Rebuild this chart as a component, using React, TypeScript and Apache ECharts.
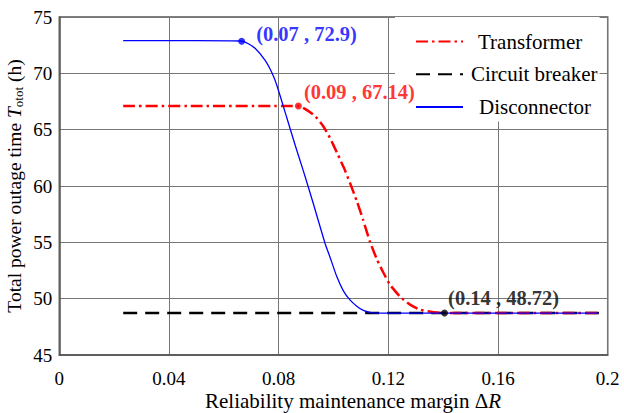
import React, { useEffect, useRef } from "react";
import * as echarts from "echarts";

const seriesNames = ["Transformer", "Circuit breaker", "Disconnector"];
const seriesColors = ["#ff0000", "#000000", "#0000ff"];

const transformerX = [0.0233, 0.05, 0.0872, 0.0896, 0.0932, 0.0962, 0.0987, 0.1013, 0.1038, 0.106, 0.1086, 0.1108, 0.1133, 0.1159, 0.1184, 0.1206, 0.1243, 0.1279, 0.1315, 0.1365, 0.1407, 0.16, 0.18, 0.1968];
const transformerY = [67.1, 67.1, 67.1, 66.84, 66.22, 65.33, 64.27, 62.94, 61.61, 60.28, 58.59, 57.0, 55.05, 53.45, 52.21, 51.24, 50.18, 49.47, 49.03, 48.79, 48.72, 48.72, 48.72, 48.72];

const breakerX = [0.0233, 0.1968];
const breakerY = [48.72, 48.72];

const disconnectorX = [0.0233, 0.05, 0.0665, 0.0688, 0.0714, 0.075, 0.0775, 0.0793, 0.083, 0.086, 0.089, 0.0926, 0.0969, 0.0987, 0.1012, 0.1036, 0.106, 0.1086, 0.1109, 0.1133, 0.1158, 0.14, 0.17, 0.1968];
const disconnectorY = [72.9, 72.9, 72.87, 72.65, 72.22, 71.18, 70.08, 68.97, 66.04, 63.64, 61.34, 58.47, 54.92, 53.7, 51.96, 50.69, 49.89, 49.31, 48.96, 48.78, 48.72, 48.72, 48.72, 48.72];

const markX = [0.0665, 0.0872, 0.1405];
const markY = [72.85, 67.1, 48.72];
const markTexts = ["(0.07 , 72.9)", "(0.09 , 67.14)", "(0.14 , 48.72)"];
const markColors = ["#0000ff", "#ff0000", "#000000"];

const xTicks = [0, 0.04, 0.08, 0.12, 0.16, 0.2];
const yTicks = [45, 50, 55, 60, 65, 70, 75];

const FONT = "Liberation Serif, Times New Roman, serif";

const zip = (xs: number[], ys: number[]) => xs.map((x, i) => [x, ys[i]]);

export default function App() {
  const ref = useRef<HTMLDivElement>(null);
  useEffect(() => {
    if (!ref.current) return;
    const chart = echarts.init(ref.current, null, { renderer: "svg" });
    const labelOffsets = [[11, -7], [2, -14], [0, -15]];
    const legendTextPad = [10, 3, 11];
    chart.setOption({
      animation: false,
      backgroundColor: "#fff",
      textStyle: { fontFamily: FONT },
      grid: {
        left: 59.3,
        right: 16.3,
        top: 17,
        bottom: 58,
        containLabel: false,
        outerBoundsMode: "none",
        show: true,
        borderColor: "#555",
        borderWidth: 1.5,
      },
      legend: {
        orient: "vertical",
        left: 395,
        top: 17,
        padding: [14, 2, 4, 20],
        itemWidth: 47,
        itemHeight: 14,
        itemGap: 11.7,
        backgroundColor: "#fff",
        itemStyle: { opacity: 0 },
        textStyle: { fontFamily: FONT, fontSize: 21, color: "#000" },
        data: seriesNames.map((n, i) => ({
          name: n,
          textStyle: { padding: [0, 0, 0, legendTextPad[i]] },
        })),
      },
      xAxis: {
        type: "value",
        min: xTicks[0],
        max: xTicks[xTicks.length - 1],
        interval: xTicks[1] - xTicks[0],
        axisLine: { show: true, lineStyle: { color: "#555", width: 1.5 } },
        axisTick: { show: false },
        splitLine: { show: true, lineStyle: { color: "#777", width: 1 } },
        axisLabel: {
          color: "#000",
          fontFamily: FONT,
          fontSize: 19,
          margin: 14,
          formatter: (v: number) => String(parseFloat(v.toFixed(4))),
        },
        name: "{n|Reliability maintenance margin Δ}{i|R}",
        nameLocation: "middle",
        nameGap: 36,
        nameMoveOverlap: false,
        nameTextStyle: {
          padding: [0, 0, 0, 39],
          lineHeight: 20,
          rich: {
            n: { fontFamily: FONT, fontSize: 21, color: "#000", lineHeight: 20 },
            i: { fontFamily: FONT, fontSize: 21, color: "#000", fontStyle: "italic", lineHeight: 20 },
          },
        },
      },
      yAxis: {
        type: "value",
        min: yTicks[0],
        max: yTicks[yTicks.length - 1],
        interval: yTicks[1] - yTicks[0],
        axisLine: { show: true, lineStyle: { color: "#555", width: 1.5 } },
        axisTick: { show: false },
        splitLine: { show: true, lineStyle: { color: "#777", width: 1 } },
        axisLabel: { color: "#000", fontFamily: FONT, fontSize: 19, margin: 7 },
        name: "{n|Total power outage time }{i|T}{s|otot}{n| (h)}",
        nameLocation: "middle",
        nameGap: 34,
        nameMoveOverlap: false,
        nameRotate: 90,
        nameTextStyle: {
          rich: {
            n: { fontFamily: FONT, fontSize: 19.5, color: "#000", lineHeight: 21, verticalAlign: "middle" },
            i: { fontFamily: FONT, fontSize: 19.5, color: "#000", fontStyle: "italic", lineHeight: 21, verticalAlign: "middle" },
            s: { fontFamily: FONT, fontSize: 13, color: "#000", lineHeight: 12, verticalAlign: "bottom" },
          },
        },
      },
      series: [
        {
          name: seriesNames[1],
          type: "line",
          symbol: "none",
          data: zip(breakerX, breakerY),
          lineStyle: { color: seriesColors[1], width: 2.5, type: [14, 8] },
          itemStyle: { color: seriesColors[1] },
          z: 2,
        },
        {
          name: seriesNames[0],
          type: "line",
          symbol: "none",
          smooth: 0.2,
          data: zip(transformerX, transformerY),
          lineStyle: { color: seriesColors[0], width: 2.5, type: [12, 4, 2.5, 4] },
          itemStyle: { color: seriesColors[0] },
          z: 3,
        },
        {
          name: seriesNames[2],
          type: "line",
          symbol: "none",
          smooth: 0.2,
          data: zip(disconnectorX, disconnectorY),
          lineStyle: { color: seriesColors[2], width: 1.3, type: "solid" },
          itemStyle: { color: seriesColors[2] },
          z: 4,
        },
        {
          name: "marks",
          type: "scatter",
          symbol: "circle",
          symbolSize: 7,
          z: 6,
          data: markX.map((x, i) => ({
            value: [x, markY[i]],
            itemStyle: { color: markColors[i] },
            label: {
              show: true,
              position: "right",
              distance: 0,
              offset: labelOffsets[i],
              formatter: markTexts[i],
              color: markColors[i],
              fontFamily: FONT,
              fontSize: 20.5,
              fontWeight: "bold",
            },
          })),
        },
      ],
    });
    return () => chart.dispose();
  }, []);
  return <div ref={ref} style={{ width: 624, height: 413, position: "absolute", left: 0, top: 0 }} />;
}
